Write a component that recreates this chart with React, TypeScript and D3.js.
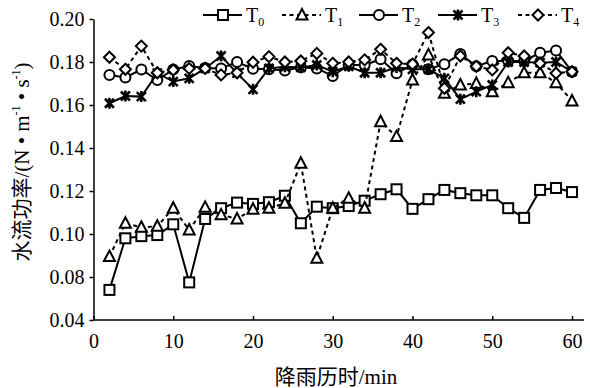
import React, { useEffect, useRef } from 'react';
import * as d3 from 'd3';

// rainfall time (min)
const times = [2, 4, 6, 8, 10, 12, 14, 16, 18, 20, 22, 24, 26, 28, 30, 32, 34, 36, 38, 40, 42, 44, 46, 48, 50, 52, 54, 56, 58, 60];

const T0 = [0.074, 0.098, 0.099, 0.0995, 0.1045, 0.0775, 0.107, 0.112, 0.1146, 0.114, 0.1148, 0.1178, 0.105, 0.1127, 0.112, 0.113, 0.1155, 0.1185, 0.1208, 0.1117, 0.1162, 0.1205, 0.119, 0.118, 0.118, 0.112, 0.1075, 0.1205, 0.1214, 0.1195];
const T1 = [0.0895, 0.105, 0.1031, 0.1036, 0.112, 0.1019, 0.1124, 0.1089, 0.107, 0.1115, 0.112, 0.1143, 0.1329, 0.0887, 0.112, 0.1166, 0.112, 0.1522, 0.1453, 0.1716, 0.1833, 0.1655, 0.1693, 0.17, 0.1662, 0.1704, 0.175, 0.175, 0.1704, 0.1619];
const T2 = [0.174, 0.1728, 0.1765, 0.1716, 0.1765, 0.1781, 0.1772, 0.177, 0.18, 0.1769, 0.1766, 0.176, 0.1775, 0.177, 0.1735, 0.1786, 0.1786, 0.1813, 0.1748, 0.1788, 0.1766, 0.179, 0.1837, 0.178, 0.1805, 0.1805, 0.1805, 0.1843, 0.1853, 0.1755];
const T3 = [0.1608, 0.1642, 0.1639, 0.1748, 0.1709, 0.1724, 0.177, 0.1828, 0.1748, 0.1673, 0.177, 0.1778, 0.1775, 0.1786, 0.1755, 0.178, 0.175, 0.175, 0.1775, 0.1766, 0.1766, 0.1724, 0.1627, 0.1662, 0.1693, 0.18, 0.18, 0.1797, 0.18, 0.1755];
const T4 = [0.1822, 0.1766, 0.1874, 0.175, 0.1763, 0.177, 0.177, 0.174, 0.175, 0.1799, 0.1825, 0.18, 0.1805, 0.184, 0.1794, 0.18, 0.181, 0.1859, 0.1794, 0.179, 0.1937, 0.1678, 0.1828, 0.178, 0.1763, 0.1843, 0.1828, 0.1794, 0.1748, 0.1755];

const seriesNames = ['0', '1', '2', '3', '4'];
const seriesValues = [T0, T1, T2, T3, T4];
const seriesMarkers = ['square', 'triangle', 'circle', 'star', 'diamond'];
const seriesDashed = [false, true, false, false, true];

const xTicks = [0, 10, 20, 30, 40, 50, 60];
const yTickValues = [0.06, 0.08, 0.1, 0.12, 0.14, 0.16, 0.18, 0.2];
const yTickLabels = ['0.04', '0.08', '0.10', '0.12', '0.14', '0.16', '0.18', '0.20'];

const FONT = '"Liberation Serif", "Times New Roman", "Noto Sans CJK SC", serif';
const W = 590;
const H = 388;

function drawMarker(g, type, cx, cy) {
  const s = 5;
  const common = (sel) => sel.attr('fill', '#fff').attr('stroke', '#000').attr('stroke-width', 2);
  if (type === 'square') {
    common(g.append('rect').attr('x', cx - s).attr('y', cy - s).attr('width', 2 * s).attr('height', 2 * s));
  } else if (type === 'circle') {
    common(g.append('circle').attr('cx', cx).attr('cy', cy).attr('r', 5));
  } else if (type === 'triangle') {
    common(
      g.append('path').attr('d', `M${cx},${cy - 6}L${cx + 5.5},${cy + 4.5}L${cx - 5.5},${cy + 4.5}Z`)
    ).attr('stroke-linejoin', 'miter');
  } else if (type === 'diamond') {
    common(
      g.append('path').attr('d', `M${cx},${cy - 5.5}L${cx + 5.5},${cy}L${cx},${cy + 5.5}L${cx - 5.5},${cy}Z`)
    );
  } else if (type === 'star') {
    const r = 4.5;
    g.append('path')
      .attr('d', `M${cx - r},${cy - r}L${cx + r},${cy + r}M${cx - r},${cy + r}L${cx + r},${cy - r}M${cx},${cy - r - 1}L${cx},${cy + r + 1}`)
      .attr('stroke', '#000')
      .attr('stroke-width', 2.6)
      .attr('fill', 'none');
  }
}

export default function App() {
  const svgRef = useRef(null);

  useEffect(() => {
    const svg = d3.select(svgRef.current);
    svg.selectAll('*').remove();

    const x = d3.scaleLinear().domain([0, 60]).range([93.5, 572]);
    const y = d3.scaleLinear().domain([0.06, 0.2]).range([320, 19]);
    const xEnd = 584;

    // axes
    const xAxis = svg.append('g').attr('transform', `translate(0,${y(0.06)})`);
    xAxis
      .call(d3.axisBottom(x).tickValues(xTicks).tickSizeInner(-4).tickSizeOuter(0).tickPadding(14))
      .call((g) => g.select('.domain').remove());
    xAxis
      .append('line')
      .attr('x1', x(0))
      .attr('x2', xEnd)
      .attr('stroke', '#000')
      .attr('stroke-width', 1.5);
    xAxis.selectAll('.tick line').attr('stroke', '#000').attr('stroke-width', 1.5);
    xAxis.selectAll('.tick text').attr('font-family', FONT).attr('font-size', 20).attr('fill', '#000');

    const yAxis = svg.append('g').attr('transform', `translate(${x(0)},0)`);
    yAxis.call(
      d3
        .axisLeft(y)
        .tickValues(yTickValues)
        .tickFormat((d, i) => yTickLabels[i])
        .tickSizeInner(4)
        .tickSizeOuter(0)
        .tickPadding(5)
    );
    yAxis.select('.domain').attr('stroke', '#000').attr('stroke-width', 1.5);
    yAxis.selectAll('.tick line').attr('stroke', '#000').attr('stroke-width', 1.5);
    yAxis.selectAll('.tick text').attr('font-family', FONT).attr('font-size', 20).attr('fill', '#000');

    // series
    const line = d3
      .line()
      .x((d) => x(d[0]))
      .y((d) => y(d[1]));

    seriesValues.forEach((vals, i) => {
      const pts = times.map((t, j) => [t, vals[j]]);
      const g = svg.append('g');
      g.append('path')
        .datum(pts)
        .attr('fill', 'none')
        .attr('stroke', '#000')
        .attr('stroke-width', 2)
        .attr('stroke-dasharray', seriesDashed[i] ? '4,3.5' : null)
        .attr('d', line);
      pts.forEach((p) => drawMarker(g, seriesMarkers[i], x(p[0]), y(p[1])));
    });

    // legend
    const legendX = [203, 282, 359, 438, 518];
    const ly = 15;
    seriesNames.forEach((name, i) => {
      const g = svg.append('g');
      const x0 = legendX[i];
      g.append('line')
        .attr('x1', x0)
        .attr('x2', x0 + 39)
        .attr('y1', ly)
        .attr('y2', ly)
        .attr('stroke', '#000')
        .attr('stroke-width', 2)
        .attr('stroke-dasharray', seriesDashed[i] ? '4,3.5' : null);
      drawMarker(g, seriesMarkers[i], x0 + 20, ly);
      const t = g
        .append('text')
        .attr('x', x0 + 43)
        .attr('y', ly + 7)
        .attr('font-family', FONT)
        .attr('font-size', 20);
      t.append('tspan').text('T');
      t.append('tspan').attr('font-size', 12).attr('dy', 4).text(name);
    });

    // axis titles
    svg
      .append('text')
      .attr('x', 336)
      .attr('y', 384)
      .attr('text-anchor', 'middle')
      .attr('font-family', FONT)
      .attr('font-size', 21)
      .text('降雨历时/min');

    const yt = svg
      .append('text')
      .attr('transform', 'translate(29,162) rotate(-90)')
      .attr('text-anchor', 'middle')
      .attr('font-family', FONT)
      .attr('font-size', 21);
    yt.append('tspan').text('水流功率/(N • m');
    yt.append('tspan').attr('font-size', 12).attr('dy', -9).text('-1');
    yt.append('tspan').attr('dy', 9).text(' • s');
    yt.append('tspan').attr('font-size', 12).attr('dy', -9).text('-1');
    yt.append('tspan').attr('dy', 9).text(')');
  }, []);

  return (
    <svg
      ref={svgRef}
      width={W}
      height={H}
      style={{ position: 'absolute', left: 0, top: 0, background: '#fff' }}
    />
  );
}
